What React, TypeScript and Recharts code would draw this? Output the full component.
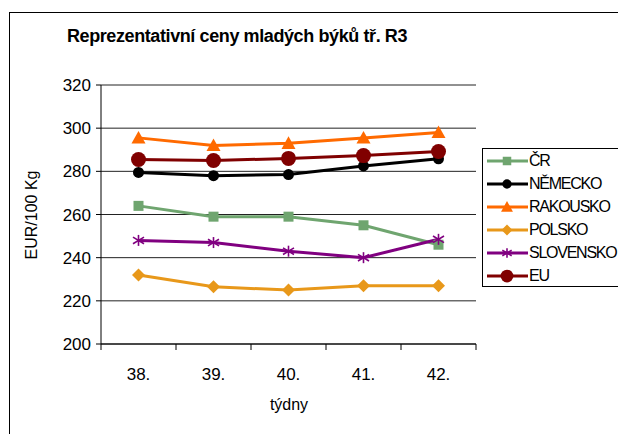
import React from "react";
import { CartesianGrid, Line, LineChart, XAxis, YAxis } from "recharts";

const weeks = ["38.", "39.", "40.", "41.", "42."];
const cr = [264, 259, 259, 255, 246];
const nemecko = [279.5, 278, 278.5, 282.5, 285.8];
const rakousko = [295.5, 292, 293, 295.5, 298];
const polsko = [232, 226.5, 225, 227, 227];
const slovensko = [248, 247, 243, 240, 248.5];
const eu = [285.5, 285, 286, 287.3, 289.2];
const yTicks = [200, 220, 240, 260, 280, 300, 320];

type Shape = "square" | "circle" | "triangle" | "diamond" | "star" | "bigCircle";

const series: { key: string; name: string; color: string; shape: Shape; values: number[] }[] = [
  { key: "cr", name: "ČR", color: "#6fa56f", shape: "square", values: cr },
  { key: "nemecko", name: "NĚMECKO", color: "#000000", shape: "circle", values: nemecko },
  { key: "rakousko", name: "RAKOUSKO", color: "#ff6a00", shape: "triangle", values: rakousko },
  { key: "polsko", name: "POLSKO", color: "#e8981a", shape: "diamond", values: polsko },
  { key: "slovensko", name: "SLOVENSKO", color: "#800080", shape: "star", values: slovensko },
  { key: "eu", name: "EU", color: "#800000", shape: "bigCircle", values: eu },
];

const data = weeks.map((week, i) => {
  const row: Record<string, string | number> = { week };
  series.forEach((s) => (row[s.key] = s.values[i]));
  return row;
});

const W = 618;
const H = 434;
const margin = { top: 85, right: 142, bottom: 60, left: 41 };
const yAxisWidth = 60;
const xAxisHeight = 30;
const plotLeft = margin.left + yAxisWidth;
const plotBottom = H - margin.bottom - xAxisHeight;
const band = (W - margin.right - plotLeft) / weeks.length;
const font = "'Liberation Sans', Arial, sans-serif";

function Marker({ shape, color, cx, cy, k = 1 }: { shape: Shape; color: string; cx: number; cy: number; k?: number }) {
  switch (shape) {
    case "square": {
      const s = 10 * k;
      return <rect x={cx - s / 2} y={cy - s / 2} width={s} height={s} fill={color} />;
    }
    case "circle":
      return <circle cx={cx} cy={cy} r={5.5 * k} fill={color} />;
    case "bigCircle":
      return <circle cx={cx} cy={cy} r={7.5 * k} fill={color} />;
    case "triangle": {
      const s = 7 * k;
      return <polygon points={`${cx},${cy - s} ${cx + s},${cy + s * 0.8} ${cx - s},${cy + s * 0.8}`} fill={color} />;
    }
    case "diamond": {
      const s = 6.5 * k;
      return <polygon points={`${cx},${cy - s} ${cx + s},${cy} ${cx},${cy + s} ${cx - s},${cy}`} fill={color} />;
    }
    case "star": {
      const s = 5.5 * k;
      return (
        <g stroke={color} strokeWidth={1.6}>
          <line x1={cx} y1={cy - s} x2={cx} y2={cy + s} />
          <line x1={cx - s} y1={cy - s * 0.6} x2={cx + s} y2={cy + s * 0.6} />
          <line x1={cx - s} y1={cy + s * 0.6} x2={cx + s} y2={cy - s * 0.6} />
        </g>
      );
    }
  }
  return null;
}

const XTick = (props: any) => {
  const { x, payload, index } = props;
  return (
    <g>
      <line x1={x - band / 2} y1={plotBottom} x2={x - band / 2} y2={plotBottom + 6} stroke="#000" />
      {index === weeks.length - 1 && (
        <line x1={x + band / 2} y1={plotBottom} x2={x + band / 2} y2={plotBottom + 6} stroke="#000" />
      )}
      <text x={x} y={plotBottom + 36} textAnchor="middle" fontSize={17} fontFamily={font} fill="#000">
        {payload.value}
      </text>
    </g>
  );
};

const LegendBox = () => (
  <div
    style={{
      position: "absolute",
      left: 482,
      top: 148,
      border: "1px solid #000",
      background: "#fff",
      padding: "0 0 0 3px",
      width: 150,
      height: 139,
      boxSizing: "border-box",
    }}
  >
    {series.map((s) => (
      <div key={s.key} style={{ display: "flex", alignItems: "center", height: 23 }}>
        <svg width={43} height={20} style={{ flex: "none" }}>
          <line x1={1} y1={10} x2={42} y2={10} stroke={s.color} strokeWidth={3} />
          <Marker shape={s.shape} color={s.color} cx={21} cy={10} k={0.85} />
        </svg>
        <span style={{ fontFamily: font, fontSize: 16, letterSpacing: -1.25, color: "#000", whiteSpace: "nowrap" }}>
          {s.name}
        </span>
      </div>
    ))}
  </div>
);

export default function App() {
  return (
    <div
      style={{ position: "fixed", left: 0, top: 0, width: W, height: H, overflow: "hidden", background: "#fff" }}
    >
      <div
        style={{
          position: "absolute",
          left: 9,
          top: 12,
          width: W + 20,
          height: H + 20,
          border: "1px solid #000",
        }}
      />
      <div
        style={{
          position: "absolute",
          left: 0,
          width: 474,
          top: 26,
          textAlign: "center",
          fontFamily: font,
          fontWeight: "bold",
          fontSize: 18,
          letterSpacing: -0.4,
        }}
      >
        Reprezentativní ceny mladých býků tř. R3
      </div>
      <div
        style={{
          position: "absolute",
          left: 32,
          top: 215,
          transform: "translate(-50%, -50%) rotate(-90deg)",
          fontFamily: font,
          fontSize: 16,
          whiteSpace: "nowrap",
        }}
      >
        EUR/100 Kg
      </div>
      <div
        style={{
          position: "absolute",
          left: 289,
          top: 405,
          transform: "translate(-50%, -50%)",
          fontFamily: font,
          fontSize: 16,
        }}
      >
        týdny
      </div>
      <div style={{ position: "absolute", left: 0, top: 0 }}>
        <LineChart width={W} height={H} data={data} margin={margin}>
          <CartesianGrid vertical={false} stroke="#222" />
          <XAxis
            dataKey="week"
            scale="band"
            height={xAxisHeight}
            axisLine={{ stroke: "#000" }}
            tickLine={false}
            tick={<XTick />}
            interval={0}
          />
          <XAxis xAxisId="top" dataKey="week" orientation="top" height={0} tick={false} tickLine={false} axisLine={{ stroke: "#808080" }} />
          <YAxis
            domain={[200, 320]}
            ticks={yTicks}
            width={yAxisWidth}
            axisLine={{ stroke: "#000" }}
            tickLine={{ stroke: "#000" }}
            tickSize={5}
            tickMargin={5}
            tick={{ fill: "#000", fontSize: 17, fontFamily: font }}
          />
          <YAxis yAxisId="right" orientation="right" width={0} tick={false} tickLine={false} axisLine={{ stroke: "#808080" }} />
          {series.map((s) => (
            <Line
              key={s.key}
              dataKey={s.key}
              name={s.name}
              stroke={s.color}
              strokeWidth={3}
              isAnimationActive={false}
              dot={(p: any) => <Marker key={`${s.key}-${p.index}`} shape={s.shape} color={s.color} cx={p.cx} cy={p.cy} />}
              activeDot={false}
            />
          ))}
        </LineChart>
      </div>
      <LegendBox />
    </div>
  );
}
